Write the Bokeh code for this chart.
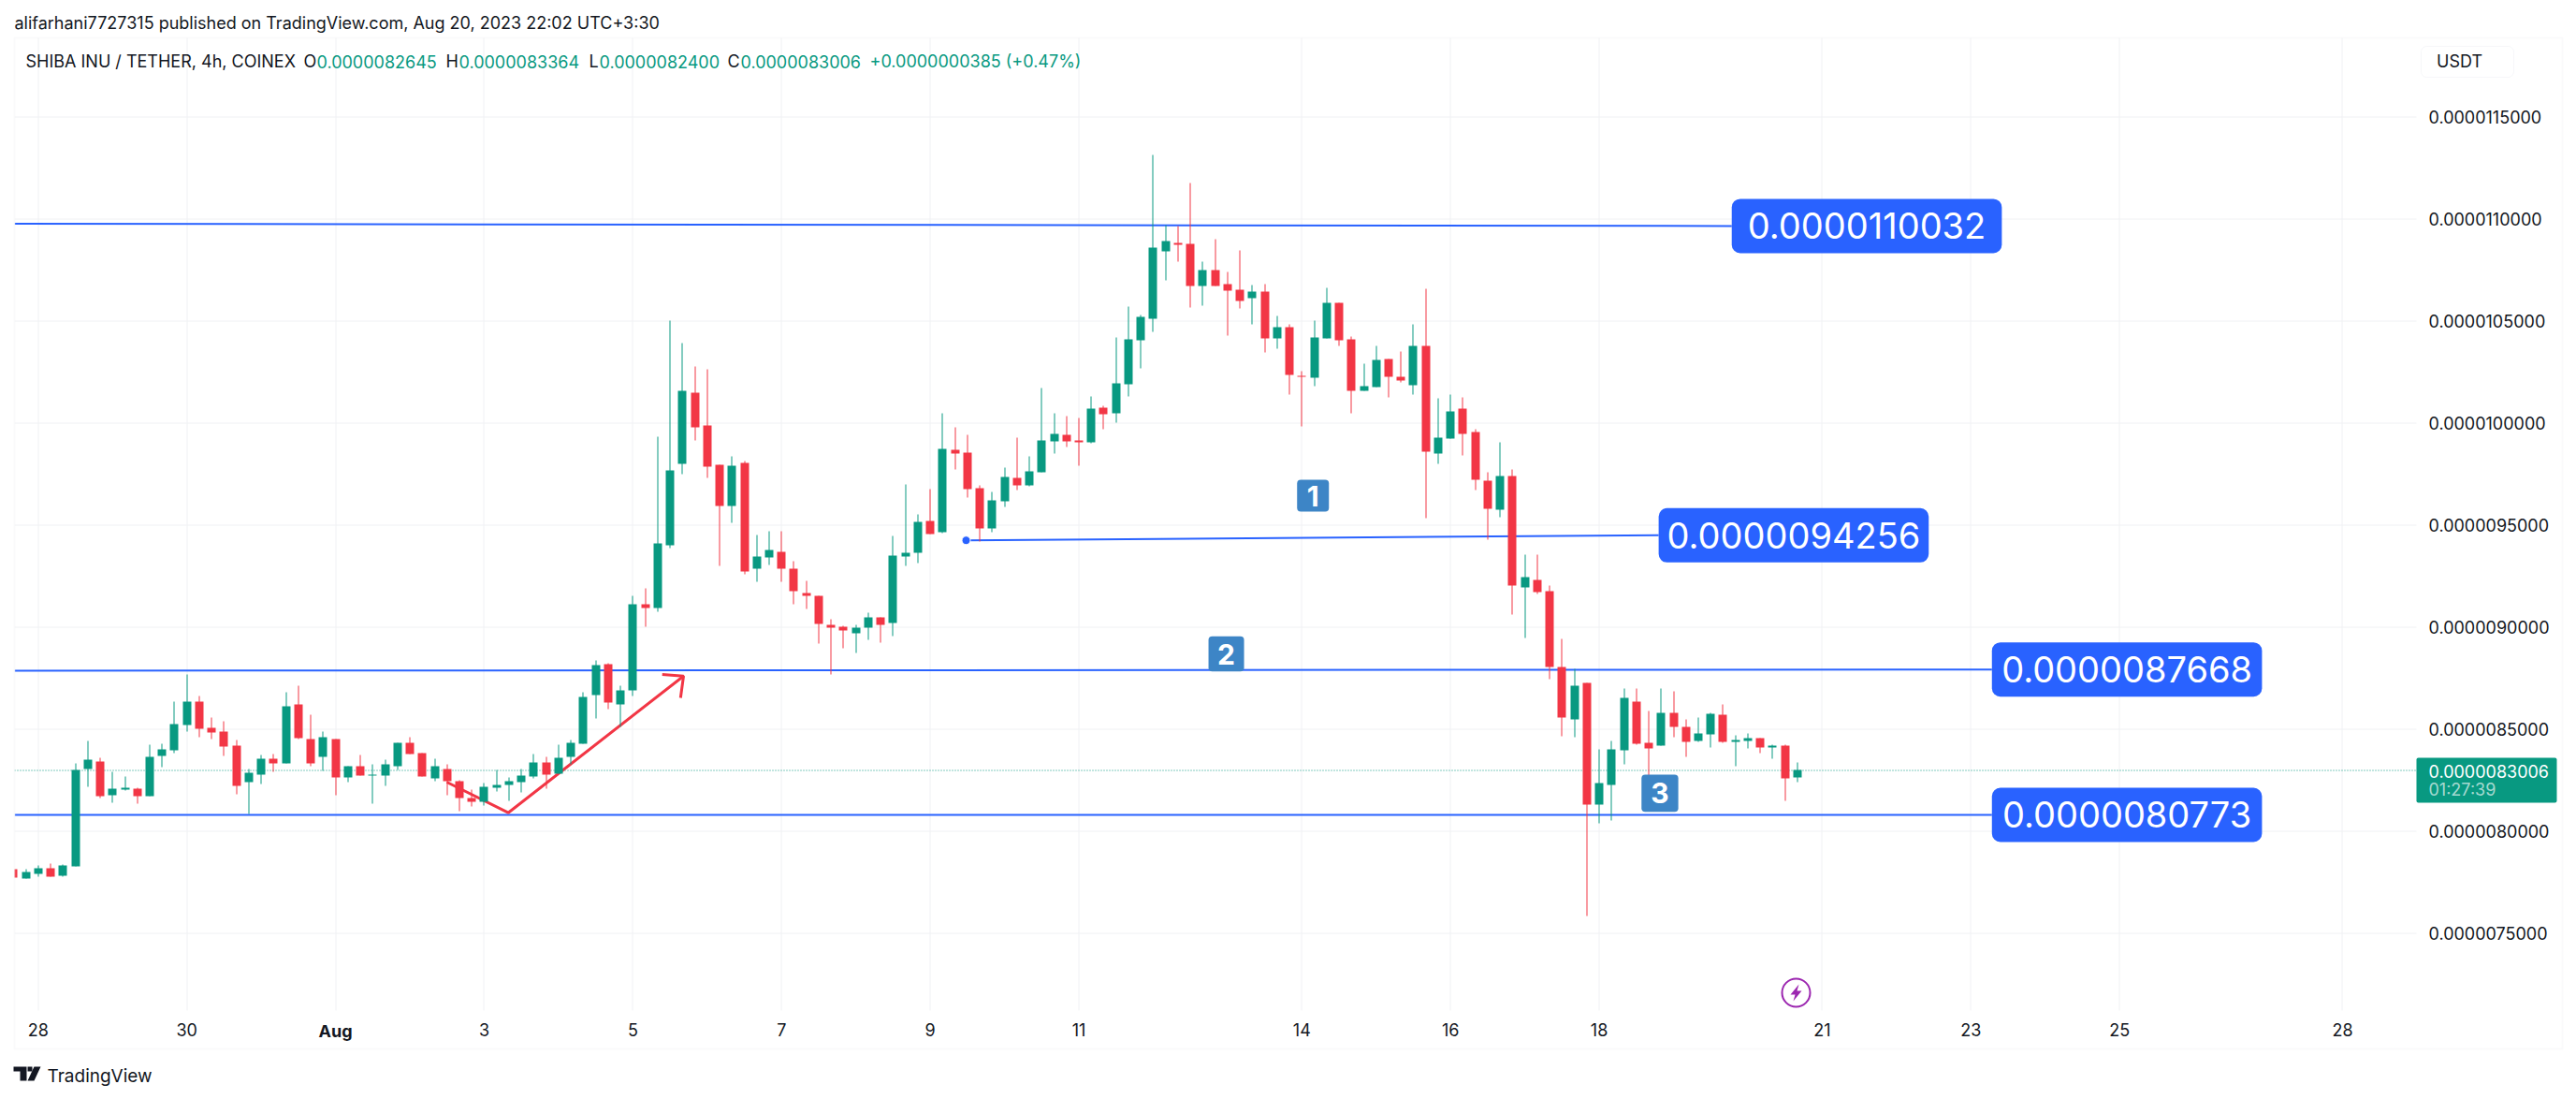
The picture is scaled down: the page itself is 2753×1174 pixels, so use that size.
from math import floor
from bokeh.plotting import figure, ColumnDataSource
from bokeh.embed import file_html
from bokeh.resources import INLINE
from bokeh.models import Label, BoxAnnotation, PolyAnnotation, FixedTicker
from bokeh.core.properties import value

# prices are in units of 1e-10 USDT; first bar index is -2 (bars are 4h, index 0 = 28 Jul 00:00)
first_bar = -2
opens = [78135,77676,77905,78181,77814,78272,83043,83410,81759,82034,82080,81713,83685,83960,85199,86346,85061,84878,84190,82401,
82768,83547,83318,86208,84511,83639,84511,82630,83180,82722,82722,83180,84327,83823,82584,83043,82447,81621,81437,82125,
82263,82401,82676,83364,82814,83639,84281,86667,88180,86208,86896,91116,90933,94006,97997,101483,99877,97951,95933,98043,
92859,93410,93685,92859,91667,91529,90107,90015,89694,89969,90474,90199,93456,93639,95199,94648,98685,98547,96804,94832,
96162,97309,96942,97584,99098,99419,99144,99052,100749,100474,101896,104052,105107,108410,108822,108776,106712,107492,106804,106529,
106116,106437,104144,104694,102309,102217,104144,105887,104098,101575,101758,103134,102263,101850,103777,98502,99235,100703,99557,97171,
95749,97401,91942,92309,91759,88043,85474,87263,81300,82263,83960,86346,84327,84190,85795,85107,84419,84740,85703,84373,
84419,84557,84098,84190,82645]
highs = [78135,78135,78318,78410,78364,83318,84419,83593,82905,82676,82125,84235,84281,86346,87676,86621,85566,85382,84465,83043,
83731,83777,86804,87125,85703,84878,84511,83180,83731,83272,83502,84327,84602,83823,83547,83272,82492,82034,82355,82997,
82630,83043,83777,83639,84235,84465,86804,88364,88226,87125,91529,91896,99327,105015,103914,102767,102630,97951,98364,98134,
94511,94694,94694,93226,92263,91529,90382,90061,90107,90703,90474,94465,96988,95520,96758,100474,99786,99419,96942,96621,
97813,99281,98364,101712,100474,100336,100245,101300,100841,104189,105703,105290,113134,109694,109648,111758,107905,109006,107400,108455,
106758,106804,105244,104832,102538,105015,106621,105887,104235,102905,103777,103134,103501,104832,106575,101208,101391,101254,99694,97584,
99052,97722,93548,93548,92034,89419,87951,87263,84006,84419,86988,86988,85887,86988,86850,85474,85566,85795,86208,84694,
84786,84557,84235,84235,83364]
lows = [77722,77676,77768,77768,77768,78272,82171,81621,81392,81988,81346,81713,83135,83823,84878,84602,84511,83685,81804,80841,
82309,82905,83318,84511,83180,82951,81759,82401,82722,81346,82217,82997,83777,82676,82447,81759,80979,81208,81254,81942,
81483,81896,82584,82080,82814,83272,84281,85520,85979,85107,86621,90015,90749,93868,97492,99143,97309,92997,95107,92584,
92217,93043,92217,91116,90887,89190,87676,88960,88731,89373,89235,89557,92997,93134,94556,94602,97721,96345,94189,94648,
95887,96712,96896,97584,98502,98823,97905,99006,99694,100015,101300,102676,104465,106988,107905,105657,105749,106712,104281,105611,
104832,103456,103639,101391,99832,101804,104144,103777,100474,101575,101758,101254,101988,101391,95348,97997,99235,98410,96713,94282,
95382,90612,89465,91621,87447,84648,84602,75841,80382,80520,83272,84235,82676,84190,84602,83639,84373,84098,84327,83180,
84052,83823,83547,81483,82400]
closes = [77722,77997,78181,77768,78318,82997,83502,81713,82080,82125,81713,83639,84006,85245,86346,85015,84832,84144,82217,82859,
83547,83318,86116,84557,83318,84602,82630,83180,82722,82768,83272,84327,83777,82676,83180,82447,81621,81437,82171,82263,
82447,82722,83364,82768,83593,84327,86575,88134,86300,86896,91116,90933,94098,97676,101575,99786,97859,95933,97905,92722,
93456,93777,92859,91758,91529,90153,89969,89832,89969,90474,90107,93501,93639,95153,94556,98731,98501,96758,94832,96208,
97355,96942,97630,99143,99465,99098,99052,100703,100428,101942,104098,105199,108593,108914,108731,106712,107492,106712,106483,105978,
106437,104144,104694,102355,102263,104189,105887,104052,101575,101804,103089,102263,102079,103777,98593,99281,100566,99465,97217,95795,
97401,92034,92447,91713,88043,85566,87125,81300,82355,84006,86529,84281,84052,85795,85107,84373,84786,85749,84373,84465,
84557,84098,84190,82584,83006]

price_ticks = [75000,80000,85000,90000,95000,100000,105000,110000,115000]
price_labels = ["0.0000075000","0.0000080000","0.0000085000","0.0000090000","0.0000095000","0.0000100000","0.0000105000","0.0000110000","0.0000115000"]
date_ticks = [0,12,24,36,48,60,72,84,102,114,126,144,156,168,186]
date_labels = ["28","30","Aug","3","5","7","9","11","14","16","18","21","23","25","28"]

last_price = 83006
level_names = ["0.0000110032","0.0000094256","0.0000087668","0.0000080773"]
level_x0 = [-1.9,74.9,-1.9,-1.9]
level_x1 = [136.7,130.8,157.7,157.7]
level_y0 = [109760,94247,87858,80794]
level_y1 = [109650,94495,87917,80794]
marker_names = ["1","2","3"]
marker_x = [102.9,95.9,130.9]
marker_y = [96435,88683,81858]
arrow_x = [32.98,37.94,52.09]
arrow_y = [82399,80899,87596]
head_x = [50.37,52.09,51.85]
head_y = [87674,87596,86527]

GREEN, RED, BLUE = "#089981", "#F23645", "#2962FF"
INK = "#131722"
GRID = "#F0F1F4"

X0, PX = 40.33, 13.24      # pixel position of bar 0, pixels per bar
Y85, UPP = 778.3, 45.87    # pixel position of price 85000, price units per pixel
def dx(px): return (px - X0) / PX
def dy(py): return 85000 + (Y85 - py) * UPP
def py_of(v): return Y85 + (85000 - v) / UPP
# the original chart snaps its marks to whole pixels; do the same so 1px marks stay solid
def sx(i): return dx(floor(X0 + PX * i) + 0.5)
def sy(v): return dy(round(py_of(v)))
def sy_line(v): return dy(round(py_of(v)) + 0.5)
PANE_L, PANE_R, PANE_T, PANE_B = dx(15), dx(2582), dy(40), dy(1079)

p = figure(width=2745, height=1166, output_backend="svg", toolbar_location=None,
           x_range=(dx(0), dx(2745)), y_range=(dy(1166), dy(0)), y_axis_location="right",
           min_border_left=0, min_border_right=0, min_border_top=0, min_border_bottom=0,
           background_fill_color="white", border_fill_color="white")
p.outline_line_color = None
p.grid.visible = False
p.yaxis.ticker = FixedTicker(ticks=price_ticks)
p.xaxis.ticker = FixedTicker(ticks=date_ticks)
p.yaxis.major_label_overrides = dict(zip(price_ticks, price_labels))
p.xaxis.major_label_overrides = {t: ("" if l == "Aug" else l) for t, l in zip(date_ticks, date_labels)}
for ax in (p.xaxis, p.yaxis):
    ax.axis_line_color = None
    ax.major_tick_line_color = None
    ax.minor_tick_line_color = None
    ax.major_tick_out = 0
    ax.major_tick_in = 0
    ax.major_label_text_font = "Inter"
    ax.major_label_text_font_size = "18px"
    ax.major_label_text_color = INK
p.yaxis.major_label_standoff = -150
p.xaxis.major_label_standoff = -74

# grid limited to the price pane
gx = [sx(t) for t in date_ticks]
gy = [sy_line(t) for t in price_ticks]
p.segment(gx, [PANE_B] * len(gx), gx, [PANE_T] * len(gx), line_color=GRID, line_width=1)
p.segment([PANE_L] * len(gy), gy, [PANE_R] * len(gy), gy, line_color=GRID, line_width=1)

# drawing tools under the candles
for x0, x1, y0, y1 in zip(level_x0, level_x1, level_y0, level_y1):
    p.line([x0, x1], [y0, y1], line_color=BLUE, line_width=2)
p.line(arrow_x, arrow_y, line_color=RED, line_width=3)
p.line(head_x, head_y, line_color=RED, line_width=3)
p.scatter([level_x0[1]], [level_y0[1]], size=9, color=BLUE, line_color="white", line_width=1)
p.line([PANE_L, PANE_R], [sy_line(last_price)] * 2, line_color=GREEN, line_width=1, line_dash="1 2")

idx = [first_bar + i for i in range(len(opens))]
colors = [GREEN if c >= o else RED for o, c in zip(opens, closes)]
src = ColumnDataSource(dict(x=[sx(i) for i in idx], h=[sy(v) for v in highs], l=[sy(v) for v in lows],
                            top=[sy(max(o, c)) for o, c in zip(opens, closes)],
                            bot=[sy(min(o, c)) for o, c in zip(opens, closes)], col=colors))
p.segment("x", "h", "x", "l", source=src, line_color="col", line_width=1)
p.vbar("x", 9 / PX, "top", "bot", source=src, fill_color="col", line_color=None)

# level price boxes
box_w, box_h = 21.8, 2660
lefts = level_x1
rights = [x + box_w for x in level_x1]
p.quad(left=lefts, right=rights, top=[y + box_h / 2 for y in level_y1], bottom=[y - box_h / 2 for y in level_y1],
       fill_color=BLUE, line_color=None, border_radius=9)
p.text([(a + b) / 2 for a, b in zip(lefts, rights)], level_y1, text=level_names, text_color="white",
       text_font=value("Inter"), text_font_size="38px", text_align="center", text_baseline="middle")

# numbered markers
mw, mh = [2.57, 2.87, 2.97], [1560, 1730, 1820]
p.quad(left=[x - w / 2 for x, w in zip(marker_x, mw)], right=[x + w / 2 for x, w in zip(marker_x, mw)],
       top=[y + h / 2 for y, h in zip(marker_y, mh)], bottom=[y - h / 2 for y, h in zip(marker_y, mh)],
       fill_color="#3D85C6", line_color=None, border_radius=4)
p.text(marker_x, marker_y, text=marker_names, text_color="white", text_font=value("Inter"), text_font_style="bold",
       text_font_size="30px", text_align="center", text_baseline="middle")

# replay / lightning icon
icon_x, icon_y = 1919, 1060
p.scatter([dx(icon_x)], [dy(icon_y)], size=30, fill_color="white", line_color="#9C27B0", line_width=2)
bolt = [(3, -9), (-6, 2), (-1, 2), (-3, 9), (6, -2), (1, -2)]
p.patch([dx(icon_x + a) for a, b in bolt], [dy(icon_y + b) for a, b in bolt], fill_color="#9C27B0", line_color=None)

def T(x, y, text, size="18px", color=INK, style="normal", align="left", alpha=1.0):
    p.add_layout(Label(x=x, y=y, x_units="canvas", y_units="canvas", text=text, text_font="Inter", level="overlay",
                       text_font_size=size, text_color=color, text_font_style=style, text_align=align,
                       text_baseline="middle", text_alpha=alpha))

def B(l, r, t, b, **kw):
    p.add_layout(BoxAnnotation(left=l, right=r, top=t, bottom=b, left_units="canvas", right_units="canvas",
                               top_units="canvas", bottom_units="canvas", level="annotation", **kw))

# page frame (the bar cut by the pane's left edge is masked)
B(0, 15, 40, 1120, fill_color="white", fill_alpha=1, line_color=None)
B(15, 2738, 40, 1120, fill_alpha=0, line_color="#EDEEF3", line_width=2)
# currency button
B(2587, 2686, 49, 82, fill_color="white", fill_alpha=1, line_color="#E0E3EB", line_width=1, border_radius=6)
T(2628, 65, "USDT", size="18px", align="center")
# last price tag
B(2582, 2732, 809, 857, fill_color=GREEN, fill_alpha=1, line_color=None, border_radius=2)
T(2595, 823, "0.0000083006", color="white")
T(2595, 843, "01:27:39", color="white", alpha=0.65)

T(15, 24, "alifarhani7727315 published on TradingView.com, Aug 20, 2023 22:02 UTC+3:30")
T(27, 65, "SHIBA INU / TETHER, 4h, COINEX")
for x, t, col in [(324, "O", INK), (338, "0.0000082645", GREEN), (476, "H", INK), (490, "0.0000083364", GREEN),
                  (629, "L", INK), (640, "0.0000082400", GREEN), (777, "C", INK), (791, "0.0000083006", GREEN),
                  (929, "+0.0000000385 (+0.47%)", GREEN)]:
    T(x, 65, t, color=col)
T(358, 1101, "Aug", style="bold", align="center")
T(50, 1149, "TradingView", size="19px")

# TradingView logo
for xs, ys in [([14, 28, 28, 21, 21, 14], [1139, 1139, 1154, 1154, 1144, 1144]),
               ([29, 34, 34, 29], [1139, 1139, 1144, 1144]),
               ([36, 43, 36, 29], [1139, 1139, 1154, 1154])]:
    p.add_layout(PolyAnnotation(xs=xs, ys=ys, xs_units="canvas", ys_units="canvas", level="overlay",
                                fill_color=INK, fill_alpha=1, line_color=None))

open("out.html", "w").write(file_html(p, INLINE))
